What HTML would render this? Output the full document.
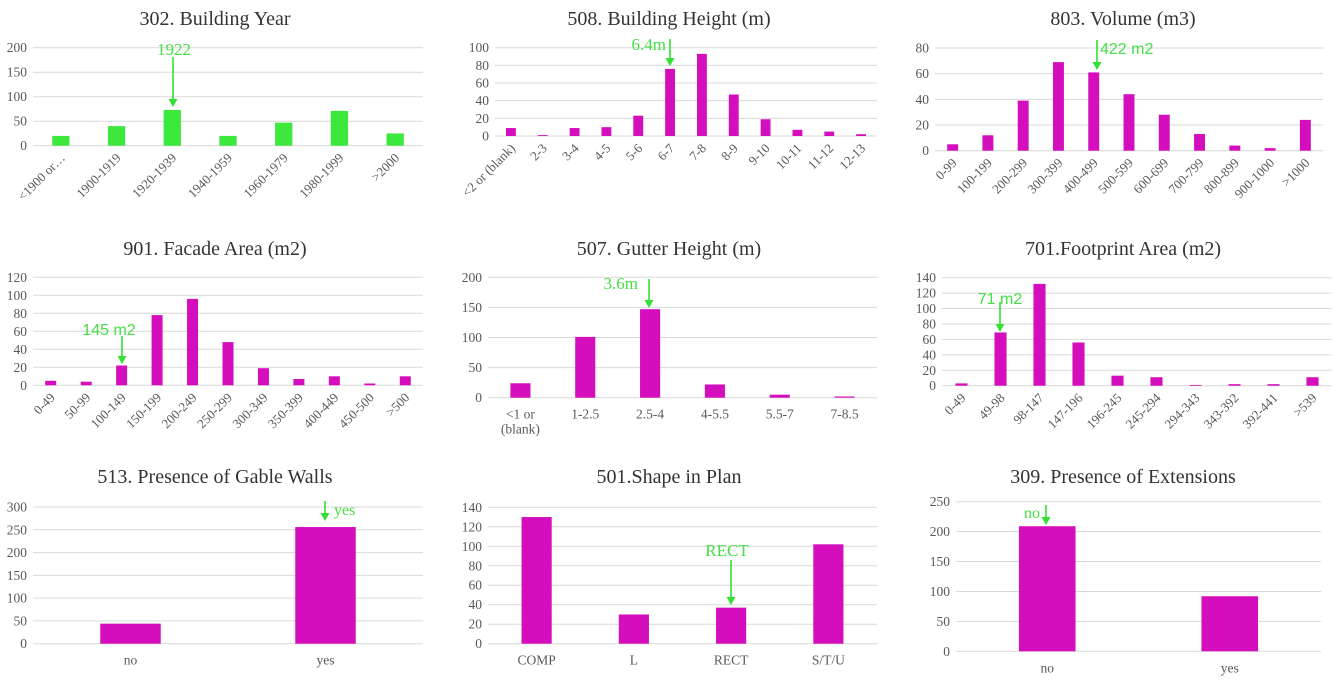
<!DOCTYPE html>
<html><head><meta charset="utf-8"><style>
body{margin:0;background:#fff;width:1333px;height:686px;overflow:hidden}
svg text{font-family:"Liberation Serif",serif}
svg text.sans{font-family:"Liberation Sans",sans-serif}
</style></head><body>
<svg id="s" width="1333" height="686" xmlns="http://www.w3.org/2000/svg"></svg>
<script>
const catsYear=["<1900 or…","1900-1919","1920-1939","1940-1959","1960-1979","1980-1999",">2000"];
const valsYear=[20,40,73,20,47,71,25];
const ticksYear=[0,50,100,150,200];
const catsBH=["<2 or (blank)","2-3","3-4","4-5","5-6","6-7","7-8","8-9","9-10","10-11","11-12","12-13"];
const valsBH=[9,1,9,10,23,76,93,47,19,7,5,2];
const ticksBH=[0,20,40,60,80,100];
const catsVol=["0-99","100-199","200-299","300-399","400-499","500-599","600-699","700-799","800-899","900-1000",">1000"];
const valsVol=[5,12,39,69,61,44,28,13,4,2,24];
const ticksVol=[0,20,40,60,80];
const catsFac=["0-49","50-99","100-149","150-199","200-249","250-299","300-349","350-399","400-449","450-500",">500"];
const valsFac=[5,4,22,78,96,48,19,7,10,2,10];
const ticksFac=[0,20,40,60,80,100,120];
const catsGut=["<1 or|(blank)","1-2.5","2.5-4","4-5.5","5.5-7","7-8.5"];
const valsGut=[24,101,147,22,5,2];
const ticksGut=[0,50,100,150,200];
const catsFoot=["0-49","49-98","98-147","147-196","196-245","245-294","294-343","343-392","392-441",">539"];
const valsFoot=[3,69,132,56,13,11,1,2,2,11];
const ticksFoot=[0,20,40,60,80,100,120,140];
const catsGab=["no","yes"];
const valsGab=[44,256];
const ticksGab=[0,50,100,150,200,250,300];
const catsShape=["COMP","L","RECT","S/T/U"];
const valsShape=[130,30,37,102];
const ticksShape=[0,20,40,60,80,100,120,140];
const catsExt=["no","yes"];
const valsExt=[209,92];
const ticksExt=[0,50,100,150,200,250];

const S=document.getElementById('s');
const NS="http://www.w3.org/2000/svg";
function mk(tag,at,parent){const e=document.createElementNS(NS,tag);for(const k in at)e.setAttribute(k,at[k]);(parent||S).appendChild(e);return e;}

function chart(o){
  const g=mk('g',{});
  
  
  const t=mk('text',{x:o.tx,y:o.ty,'text-anchor':'middle','font-size':20,fill:'#333'},g);
  t.textContent=o.title;
  
  
  const ymax=o.ticks[o.ticks.length-1];
  const Y=v=>o.y0-(o.y0-o.y1)*v/ymax;
  const n=o.cats.length, cw=(o.x1-o.x0)/n;
  const X=i=>o.x0+cw*(i+0.5);
  o.ticks.forEach(tv=>{
    const l=mk('line',{x1:o.x0,x2:o.x1,y1:Y(tv),y2:Y(tv),stroke:'#d9d9d9','stroke-width':1},g);
    
    
    const tl=mk('text',{x:o.x0-6,y:Y(tv)+4.5,'text-anchor':'end','font-size':13.5,fill:'#595959'},g);
    tl.textContent=tv;
    
    
  });
  const bw=cw*0.31;
  o.vals.forEach((v,i)=>{
    const r=mk('rect',{x:X(i)-bw/2,y:Y(v),width:bw,height:Math.max(0.5,o.y0-Y(v)),fill:o.color},g);
    
    
  });
  o.cats.forEach((c,i)=>{
    let tl;
    if(o.rot){
      tl=mk('text',{x:X(i)+5,y:o.y0+13,'text-anchor':'end','font-size':13,fill:'#595959',transform:`rotate(-45 ${X(i)+5} ${o.y0+13})`},g);
      tl.textContent=c;
    } else {
      const parts=c.split('|');
      tl=mk('text',{x:X(i),y:o.y0+21,'text-anchor':'middle','font-size':13.5,fill:'#595959'},g);
      parts.forEach((p,j)=>{const ts=mk('tspan',{x:X(i),dy:j?15:0},tl);ts.textContent=p;});
    }
    
    
  });
  const a=o.ann;
  const ar=mk('g',{},g);
  
  
  mk('line',{x1:a.ax,x2:a.ax,y1:a.ay1,y2:a.ay2-6,stroke:'#33e033','stroke-width':1.6},ar);
  mk('polygon',{points:`${a.ax-4.5},${a.ay2-8} ${a.ax+4.5},${a.ay2-8} ${a.ax},${a.ay2}`,fill:'#33e033'},ar);
  const at=mk('text',{x:a.tx,y:a.ty,'text-anchor':a.anchor||'middle','font-size':a.fs||17,fill:'#44e044'},g);
  if(a.sans) at.setAttribute('class','sans');
  at.textContent=a.text;
  
  
}
const M='#d40dbd', G='#3de83d';
chart({name:'building-year-chart',title:'302. Building Year',tx:215,ty:25,x0:33,x1:423,y0:145.7,y1:47.7,cats:catsYear,vals:valsYear,ticks:ticksYear,color:G,rot:true,ann:{text:'1922',tx:174,ty:55,ax:173,ay1:57,ay2:107}});
chart({name:'building-height-chart',title:'508. Building Height (m)',tx:669,ty:25,x0:495,x1:877,y0:136,y1:47.7,cats:catsBH,vals:valsBH,ticks:ticksBH,color:M,rot:true,ann:{text:'6.4m',tx:666,ty:50,anchor:'end',ax:670,ay1:39,ay2:66}});
chart({name:'volume-chart',title:'803. Volume (m3)',tx:1123,ty:25,x0:935,x1:1323,y0:150.7,y1:48,cats:catsVol,vals:valsVol,ticks:ticksVol,color:M,rot:true,ann:{text:'422 m2',tx:1100,ty:54,anchor:'start',sans:true,fs:16,ax:1097,ay1:40,ay2:70}});
chart({name:'facade-area-chart',title:'901. Facade Area (m2)',tx:215,ty:255,x0:33,x1:423,y0:385.3,y1:277.3,cats:catsFac,vals:valsFac,ticks:ticksFac,color:M,rot:true,ann:{text:'145 m2',tx:109,ty:335,sans:true,fs:16,ax:122,ay1:336,ay2:364}});
chart({name:'gutter-height-chart',title:'507. Gutter Height (m)',tx:669,ty:255,x0:488,x1:877,y0:397.7,y1:277.3,cats:catsGut,vals:valsGut,ticks:ticksGut,color:M,rot:false,ann:{text:'3.6m',tx:638,ty:289,anchor:'end',ax:649,ay1:279,ay2:308}});
chart({name:'footprint-area-chart',title:'701.Footprint Area (m2)',tx:1123,ty:255,x0:942,x1:1332,y0:385.7,y1:277.7,cats:catsFoot,vals:valsFoot,ticks:ticksFoot,color:M,rot:true,ann:{text:'71 m2',tx:1000,ty:304,sans:true,fs:16,ax:1000,ay1:302,ay2:332}});
chart({name:'gable-walls-chart',title:'513. Presence of Gable Walls',tx:215,ty:483,x0:33,x1:423,y0:643.7,y1:507,cats:catsGab,vals:valsGab,ticks:ticksGab,color:M,rot:false,ann:{text:'yes',tx:334,ty:515,anchor:'start',fs:16,ax:325,ay1:501,ay2:521}});
chart({name:'shape-in-plan-chart',title:'501.Shape in Plan',tx:669,ty:483,x0:488,x1:877,y0:643.7,y1:507.3,cats:catsShape,vals:valsShape,ticks:ticksShape,color:M,rot:false,ann:{text:'RECT',tx:727,ty:556,ax:731,ay1:560,ay2:605}});
chart({name:'extensions-chart',title:'309. Presence of Extensions',tx:1123,ty:483,x0:956,x1:1321,y0:651.3,y1:501.7,cats:catsExt,vals:valsExt,ticks:ticksExt,color:M,rot:false,ann:{text:'no',tx:1040,ty:518,anchor:'end',fs:16,ax:1046,ay1:505,ay2:525}});
</script>
</body></html>
